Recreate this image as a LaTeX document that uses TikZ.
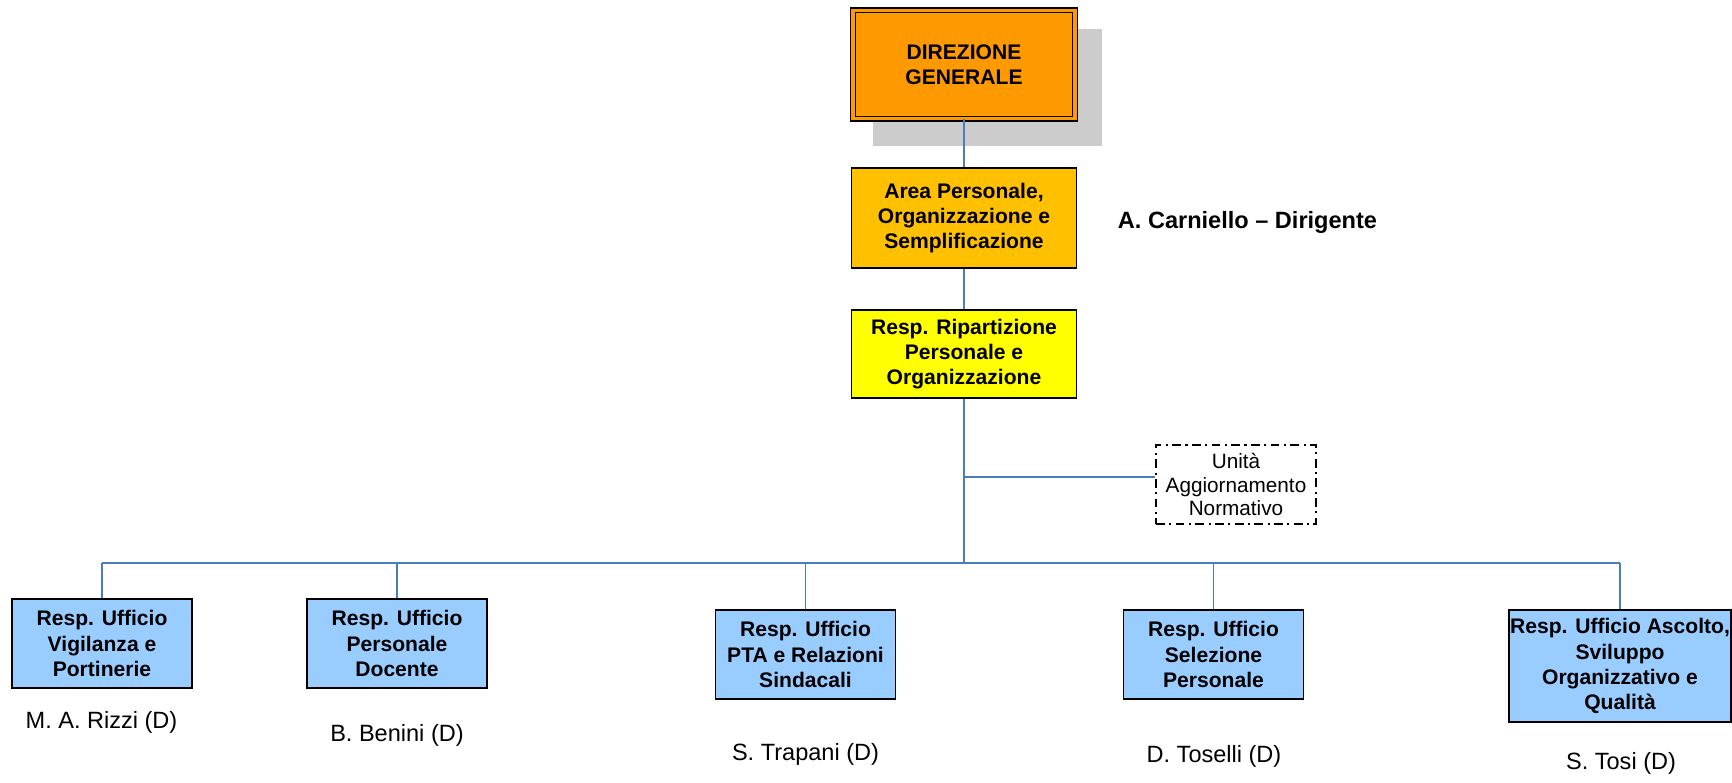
\documentclass[tikz,border=0pt]{standalone}
\usepackage{fontspec}
\setmainfont{Liberation Sans}
\definecolor{dgorange}{HTML}{FF9900}
\definecolor{areaorange}{HTML}{FFC000}
\definecolor{ripyellow}{HTML}{FFFF00}
\definecolor{ufblue}{HTML}{99CCFF}
\definecolor{linkblue}{HTML}{4A7EBB}
\definecolor{shadowgray}{HTML}{CCCCCC}
\newcommand{\boxtxt}{\fontsize{12}{14.3}\selectfont\bfseries}
\newcommand{\nametxt}{\fontsize{13.4}{16}\selectfont}

\begin{document}
\begin{tikzpicture}[x=0.02cm,y=-0.02cm,
   box/.style={draw=black,line width=1.1pt,align=center,inner sep=0pt,font=\boxtxt},
   ufficio/.style={box,fill=ufblue,minimum width=3.6cm,minimum height=1.78cm},
   link/.style={draw=linkblue,line width=0.85pt}]
   \useasboundingbox (0,0) rectangle (1732,782);
   \fill[shadowgray] (873,29) rectangle (1102,146);
   \node[box,fill=dgorange,line width=0.85pt,double=dgorange,double distance=1.9pt,
         minimum width=4.44cm,minimum height=2.17cm] (dg) at (964,64.5) {DIREZIONE\\GENERALE};
   \node[box,fill=areaorange,minimum width=4.5cm,minimum height=2.0cm] (area) at (964,218)
        {Area Personale,\\Organizzazione e\\Semplificazione};
   \node[font=\fontsize{13.4}{16}\selectfont\bfseries] (dir) at (1247.5,222) {A. Carniello – Dirigente};
   \node[box,fill=ripyellow,minimum width=4.5cm,minimum height=1.76cm] (rip) at (964,354)
        {Resp. Ripartizione\\Personale e\\Organizzazione};
   \node[draw=black,line width=0.85pt,dash pattern=on 5pt off 2.5pt on 1.2pt off 2.5pt,
         align=center,inner sep=0pt,font=\fontsize{11.8}{13.6}\selectfont,
         minimum width=3.2cm,minimum height=1.58cm] (unita) at (1236,484.5)
        {Unità\\Aggiornamento\\Normativo};
   \node[ufficio] (b1) at (102,643.5) {Resp. Ufficio\\Vigilanza e\\Portinerie};
   \node[ufficio] (b2) at (397,643.5) {Resp. Ufficio\\Personale\\Docente};
   \node[ufficio] (b3) at (805.5,654.5) {Resp. Ufficio\\PTA e Relazioni\\Sindacali};
   \node[ufficio] (b4) at (1213.5,654.5) {Resp. Ufficio\\Selezione\\Personale};
   \node[ufficio,minimum width=4.44cm,minimum height=2.24cm] (b5) at (1620,666)
        {Resp. Ufficio Ascolto,\\Sviluppo\\Organizzativo e\\Qualità};
   \node[font=\nametxt] (n1) at (101.5,722) {M. A. Rizzi (D)};
   \node[font=\nametxt] (n2) at (397,735) {B. Benini (D)};
   \node[font=\nametxt] (n3) at (805.5,754) {S. Trapani (D)};
   \node[font=\nametxt] (n4) at (1214,756) {D. Toselli (D)};
   \node[font=\nametxt] (n5) at (1621,763) {S. Tosi (D)};
   \coordinate (tu) at (964,477);
   \coordinate (bus) at (964,563);
   \draw[link] (dg.south) -- (area.north);
   \draw[link] (area.south) -- (rip.north);
   \draw[link] (rip.south) -- (bus);
   \draw[link] (tu) -- (tu -| unita.west);
   \draw[link] (b1.north |- bus) -- (b5.north |- bus);
   \foreach \b in {b1,b2,b3,b4,b5}
      \draw[link] (\b.north) -- (\b.north |- bus);
\end{tikzpicture}
\end{document}
